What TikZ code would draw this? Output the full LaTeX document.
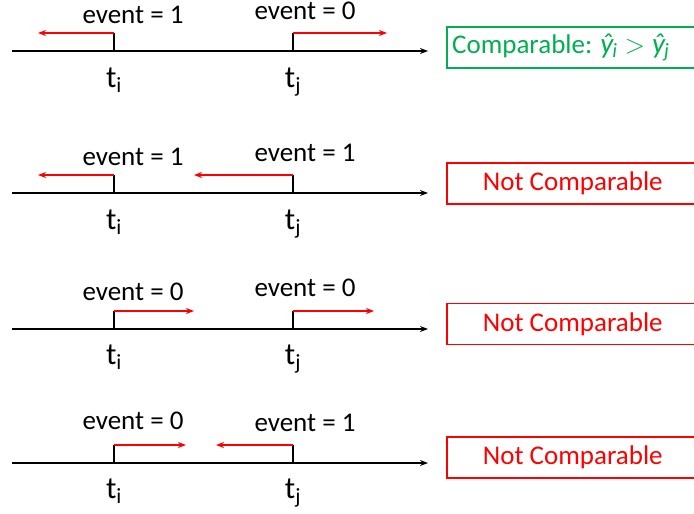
\documentclass[tikz,border=0pt]{standalone}
\usepackage{fix-cm}
\usepackage{fontspec}
\setmainfont{Carlito}
\usetikzlibrary{arrows.meta}

\definecolor{okgreen}{RGB}{0,176,80}

\tikzset{
  timeline/.style={line width=1.6pt,-{Stealth[length=8pt,width=6pt]}},
  stem/.style={line width=1.6pt},
  censor/.style={red,line width=1.6pt,-{Stealth[length=8pt,width=6pt]}},
  evtlbl/.style={font=\fontsize{27}{30}\selectfont,inner sep=0pt},
  tlbl/.style={font=\fontsize{31}{33}\selectfont,inner sep=0pt},
  okbox/.style={draw=okgreen,line width=1.6pt,text=okgreen,anchor=west,
    minimum width=252pt,minimum height=41pt,font=\fontsize{27}{30}\selectfont},
  nobox/.style={draw=red,line width=1.6pt,text=red,anchor=west,
    minimum width=252pt,minimum height=41pt,font=\fontsize{27}{30}\selectfont}
}

% predicted risk, set in text italics
\newcommand{\yhat}[1]{{\itshape\fontsize{29}{30}\selectfont ŷ\kern-1pt\textsubscript{#1}}}

\begin{document}
\begin{tikzpicture}[x=1pt,y=-1pt]
\useasboundingbox (0,0) rectangle (694,514);
\clip (0,0) rectangle (694,514);

% First row: event at t_i, censored at t_j
\coordinate (s1) at (12,51);
\coordinate (e1) at (428,51);
\draw[timeline] (s1) -- (e1);
\coordinate (i1) at (114,51);
\coordinate (ih1) at (114,33);
\coordinate (ia1) at (38,33);
\coordinate (j1) at (293,51);
\coordinate (jh1) at (293,33);
\coordinate (ja1) at (387,33);
\draw[stem] (i1) -- (ih1);
\draw[stem] (j1) -- (jh1);
\draw[censor] (ih1) -- (ia1);
\draw[censor] (jh1) -- (ja1);
\node[evtlbl] (ev1i) at (133,15) {event = 1};
\node[evtlbl] (ev1j) at (305,11) {event = 0};
\node[tlbl] (t1i) at (114,80) {t\textsubscript{i}};
\node[tlbl] (t1j) at (293,82) {t\textsubscript{j}};
\node[okbox] (box1) at (446,47.5) {\hspace{-24pt}Comparable: \yhat{i}\hspace{7pt}$>$\hspace{7pt}\yhat{j}};

% Second row: event at both
\coordinate (s2) at (12,193);
\coordinate (e2) at (428,193);
\draw[timeline] (s2) -- (e2);
\coordinate (i2) at (114,193);
\coordinate (ih2) at (114,175);
\coordinate (ia2) at (38,175);
\coordinate (j2) at (293,193);
\coordinate (jh2) at (293,175);
\coordinate (ja2) at (194,175);
\draw[stem] (i2) -- (ih2);
\draw[stem] (j2) -- (jh2);
\draw[censor] (ih2) -- (ia2);
\draw[censor] (jh2) -- (ja2);
\node[evtlbl] (ev2i) at (133,157) {event = 1};
\node[evtlbl] (ev2j) at (305,153) {event = 1};
\node[tlbl] (t2i) at (114,222) {t\textsubscript{i}};
\node[tlbl] (t2j) at (293,224) {t\textsubscript{j}};
\node[nobox] (box2) at (446,183.5) {Not Comparable};

% Third row: censored at both
\coordinate (s3) at (12,329);
\coordinate (e3) at (428,329);
\draw[timeline] (s3) -- (e3);
\coordinate (i3) at (114,329);
\coordinate (ih3) at (114,311);
\coordinate (ia3) at (194,311);
\coordinate (j3) at (293,329);
\coordinate (jh3) at (293,311);
\coordinate (ja3) at (374,311);
\draw[stem] (i3) -- (ih3);
\draw[stem] (j3) -- (jh3);
\draw[censor] (ih3) -- (ia3);
\draw[censor] (jh3) -- (ja3);
\node[evtlbl] (ev3i) at (133,292) {event = 0};
\node[evtlbl] (ev3j) at (305,288) {event = 0};
\node[tlbl] (t3i) at (114,357) {t\textsubscript{i}};
\node[tlbl] (t3j) at (293,359) {t\textsubscript{j}};
\node[nobox] (box3) at (446,324) {Not Comparable};

% Fourth row: censored at t_i, event at t_j
\coordinate (s4) at (12,463);
\coordinate (e4) at (428,463);
\draw[timeline] (s4) -- (e4);
\coordinate (i4) at (114,463);
\coordinate (ih4) at (114,445);
\coordinate (ia4) at (186,445);
\coordinate (j4) at (293,463);
\coordinate (jh4) at (293,445);
\coordinate (ja4) at (216,445);
\draw[stem] (i4) -- (ih4);
\draw[stem] (j4) -- (jh4);
\draw[censor] (ih4) -- (ia4);
\draw[censor] (jh4) -- (ja4);
\node[evtlbl] (ev4i) at (133,421) {event = 0};
\node[evtlbl] (ev4j) at (305,423) {event = 1};
\node[tlbl] (t4i) at (114,491) {t\textsubscript{i}};
\node[tlbl] (t4j) at (293,493) {t\textsubscript{j}};
\node[nobox] (box4) at (446,457.5) {Not Comparable};

\end{tikzpicture}
\end{document}
